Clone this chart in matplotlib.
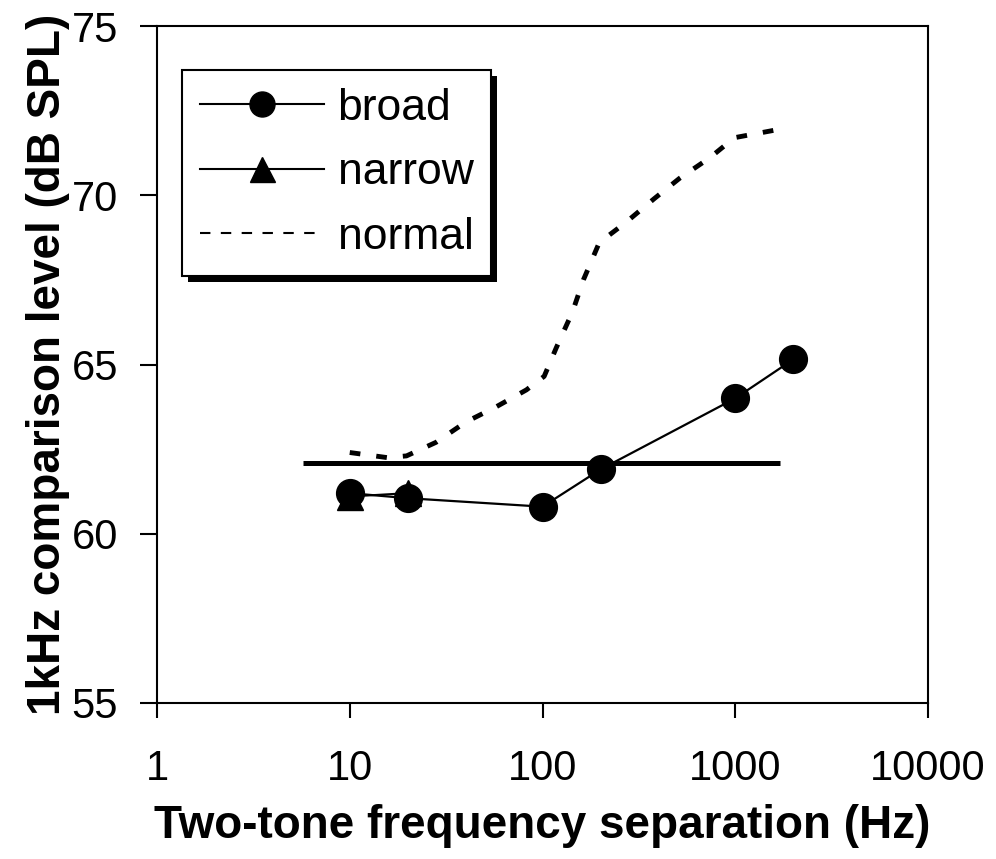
import matplotlib
matplotlib.use("Agg")
import matplotlib.pyplot as plt
from matplotlib.lines import Line2D
from matplotlib.patches import Rectangle

plt.rcParams["font.family"] = ["Liberation Sans", "DejaVu Sans"]

# broad / narrow band data (Hz, dB SPL)
broad_x = [10, 20, 100, 200, 1000, 2000]
broad_y = [61.2, 61.05, 60.8, 61.9, 64.0, 65.15]

narrow_x = [10, 20]
narrow_y = [61.1, 61.2]

# normal curve
normal_x = [10, 15.6, 19.7, 28, 40, 57.5, 82.5, 102, 118, 143, 163, 197,
            271, 380, 514, 735, 990, 1700]
normal_y = [62.4, 62.25, 62.3, 62.7, 63.3, 63.75, 64.25, 64.65, 65.5, 66.55,
            67.5, 68.6, 69.2, 69.9, 70.5, 71.1, 71.7, 71.95]

# reference level line
ref_x = [5.7, 1700]
ref_y = [62.1, 62.1]

xticks = [1, 10, 100, 1000, 10000]
yticks = [55, 60, 65, 70, 75]

W, H = 996, 859
fig = plt.figure(figsize=(W / 100, H / 100), dpi=100)
ax = fig.add_axes([157 / W, 1 - 703 / H, (928 - 157) / W, (703 - 26) / H])

ax.plot(ref_x, ref_y, color="black", lw=3.6, solid_capstyle="butt", zorder=2)
ax.plot(normal_x, normal_y, color="black", lw=3.5, ls=(0, (2.2, 3.3)), zorder=2)
ax.plot(narrow_x, narrow_y, color="black", lw=1.5, marker="^",
        markersize=19, zorder=3)
ax.plot(broad_x, broad_y, color="black", lw=1.6, marker="o",
        markersize=20, zorder=4)

ax.set_xscale("log")
ax.set_xlim(1, 10000)
ax.set_ylim(55, 75)
ax.set_xticks(xticks)
ax.set_xticklabels([str(v) for v in xticks])
ax.minorticks_off()
ax.set_yticks(yticks)
ax.set_yticklabels([str(v) for v in yticks])

ax.tick_params(axis="both", direction="out", width=1.5, labelsize=30)
ax.tick_params(axis="y", length=12, pad=16)
ax.tick_params(axis="x", length=11, pad=22)
for sp in ax.spines.values():
    sp.set_linewidth(1.5)

ax.set_xlabel("Two-tone frequency separation (Hz)", fontsize=33,
              fontweight="bold")
ax.set_ylabel("1kHz comparison level (dB SPL)", fontsize=33,
              fontweight="bold")
ax.xaxis.set_label_coords(0.5, -0.149)
ax.yaxis.set_label_coords(-0.113, 0.5)

handles = [
    Line2D([], [], color="black", lw=1.5, marker="o", markersize=18),
    Line2D([], [], color="black", lw=1.5, marker="^", markersize=18),
    Line2D([], [], color="black", lw=1.5, ls=(0, (5, 5))),
]
leg = ax.legend(handles, ["broad", "narrow", "normal"], loc="upper left",
                bbox_to_anchor=((182 - 157) / 771, (703 - 70) / 677),
                fontsize=32, frameon=True, fancybox=False, framealpha=1,
                facecolor="white", edgecolor="black", handlelength=2.8,
                handletextpad=0.3, labelspacing=0.53, borderpad=0.4,
                borderaxespad=0)
leg.get_frame().set_linewidth(1.5)
leg.set_zorder(6)

# hard black drop shadow behind the legend box
fig.canvas.draw()
bb = leg.get_window_extent()
shadow = Rectangle((bb.x0 + 6, bb.y0 - 6), bb.width, bb.height,
                   transform=None, facecolor="black", edgecolor="none",
                   zorder=5)
ax.add_artist(shadow)

fig.savefig("out.png", dpi=100)
